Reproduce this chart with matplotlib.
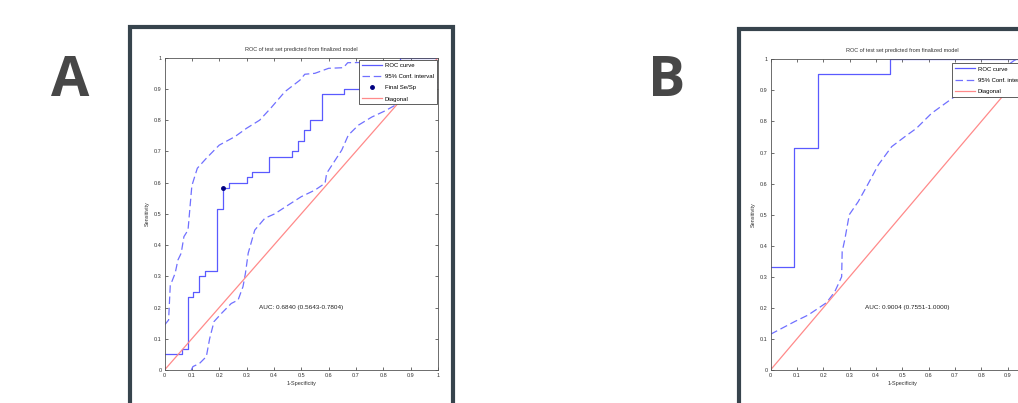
import matplotlib
matplotlib.use('Agg')
import matplotlib.pyplot as plt
from matplotlib.patches import Rectangle

# panel A data
roc_a_x = [0, 0.065, 0.065, 0.085, 0.085, 0.105, 0.105, 0.125, 0.125, 0.148, 0.148, 0.193, 0.193,
           0.213, 0.213, 0.235, 0.235, 0.30, 0.30, 0.32, 0.32, 0.383, 0.383, 0.467, 0.467, 0.489,
           0.489, 0.511, 0.511, 0.533, 0.533, 0.575, 0.575, 0.658, 0.658, 0.77, 0.77, 0.86, 0.86, 1.0]
roc_a_y = [0.05, 0.05, 0.067, 0.067, 0.233, 0.233, 0.25, 0.25, 0.30, 0.30, 0.317, 0.317, 0.517,
           0.517, 0.583, 0.583, 0.60, 0.60, 0.617, 0.617, 0.633, 0.633, 0.683, 0.683, 0.70, 0.70,
           0.733, 0.733, 0.767, 0.767, 0.80, 0.80, 0.883, 0.883, 0.90, 0.90, 0.917, 0.917, 1.0, 1.0]
upper_a_x = [0, 0.015, 0.021, 0.039, 0.049, 0.061, 0.071, 0.086, 0.10, 0.12, 0.153, 0.20, 0.257,
             0.30, 0.348, 0.39, 0.44, 0.495, 0.513, 0.55, 0.60, 0.654, 0.67, 0.75, 0.85, 1.0]
upper_a_y = [0.144, 0.16, 0.27, 0.31, 0.352, 0.374, 0.427, 0.448, 0.59, 0.646, 0.678, 0.72, 0.747,
             0.774, 0.80, 0.84, 0.891, 0.928, 0.947, 0.95, 0.966, 0.968, 0.984, 0.985, 0.985, 0.985]
lower_a_x = [0.098, 0.104, 0.128, 0.153, 0.165, 0.181, 0.208, 0.244, 0.269, 0.287, 0.296, 0.306,
             0.33, 0.367, 0.403, 0.452, 0.50, 0.55, 0.587, 0.593, 0.648, 0.672, 0.709, 0.758,
             0.807, 0.856, 0.93, 1.0]
lower_a_y = [0.0, 0.011, 0.021, 0.043, 0.10, 0.155, 0.181, 0.213, 0.224, 0.267, 0.31, 0.374,
             0.448, 0.486, 0.50, 0.528, 0.555, 0.576, 0.598, 0.63, 0.704, 0.752, 0.784, 0.81,
             0.83, 0.854, 0.89, 0.921]
point_a = (0.213, 0.583)
auc_a = 'AUC: 0.6840 (0.5643-0.7804)'

# panel B data
roc_b_x = [0, 0.09, 0.09, 0.18, 0.18, 0.455, 0.455, 1.0]
roc_b_y = [0.333, 0.333, 0.714, 0.714, 0.952, 0.952, 1.0, 1.0]
lower_b_x = [0, 0.092, 0.143, 0.194, 0.213, 0.244, 0.27, 0.272, 0.282, 0.299, 0.333, 0.371,
             0.409, 0.46, 0.51, 0.554, 0.611, 0.725, 0.83, 0.928, 1.0]
lower_b_y = [0.115, 0.156, 0.177, 0.206, 0.217, 0.252, 0.30, 0.381, 0.42, 0.50, 0.542, 0.60,
             0.66, 0.719, 0.751, 0.778, 0.826, 0.896, 0.94, 0.998, 1.0]
auc_b = 'AUC: 0.9004 (0.7551-1.0000)'

ticks = [0, 0.1, 0.2, 0.3, 0.4, 0.5, 0.6, 0.7, 0.8, 0.9, 1]
tick_labels = ['0', '0.1', '0.2', '0.3', '0.4', '0.5', '0.6', '0.7', '0.8', '0.9', '1']

plt.rcParams['font.family'] = ['Liberation Sans', 'DejaVu Sans']

roc_col = '#5a5aff'
ci_col = '#7070ff'
diag_col = '#ff8a8a'
frame_col = '#37444d'

fig = plt.figure(figsize=(10.18, 4.03), dpi=100)

# dark frames around the two panels
fig.patches.append(Rectangle((130 / 1018, -0.2), 323 / 1018, 1.2 - (27 / 403), transform=fig.transFigure,
                             fill=False, edgecolor=frame_col, linewidth=3, zorder=0))
fig.patches.append(Rectangle((738.7 / 1018, -0.2), 0.5, 1.2 - (29 / 403), transform=fig.transFigure,
                             fill=False, edgecolor=frame_col, linewidth=3, zorder=0))

fig.text(70 / 1018, 1 - 81 / 403, 'A', fontsize=40, fontweight='bold', color='#474747',
         family=['Open Sans', 'DejaVu Sans'], ha='center', va='center')
fig.text(667 / 1018, 1 - 81 / 403, 'B', fontsize=40, fontweight='bold', color='#474747',
         family=['Open Sans', 'DejaVu Sans'], ha='center', va='center')


def style_axes(ax):
    ax.set_xlim(0, 1)
    ax.set_ylim(0, 1)
    ax.set_xticks(ticks)
    ax.set_yticks(ticks)
    ax.set_xticklabels(tick_labels)
    ax.set_yticklabels(tick_labels)
    ax.tick_params(direction='in', length=2.5, width=0.5, labelsize=4, top=True, right=True, pad=2,
                   colors='#333333')
    for s in ax.spines.values():
        s.set_linewidth(0.6)
        s.set_color('#555555')
    ax.set_title('ROC of test set predicted from finalized model', fontsize=4, pad=5, color='#333333')
    ax.set_xlabel('1-Specificity', fontsize=4, labelpad=2, color='#333333')
    ax.set_ylabel('Sensitivity', fontsize=4, labelpad=3, color='#333333')


# panel A
ax1 = fig.add_axes([164.5 / 1018, 33 / 403, 273.5 / 1018, 312.3 / 403])
ax1.plot(roc_a_x, roc_a_y, color=roc_col, lw=0.9, label='ROC curve')
ax1.plot(upper_a_x, upper_a_y, color=ci_col, lw=0.9, ls=(0, (6, 3)), label='95% Conf. interval')
ax1.plot(lower_a_x, lower_a_y, color=ci_col, lw=0.9, ls=(0, (6, 3)))
ax1.plot([point_a[0]], [point_a[1]], 'o', color='#000080', ms=2.5, ls='none', label='Final Se/Sp')
ax1.plot([0, 1], [0, 1], color=diag_col, lw=0.9, label='Diagonal')
ax1.text(0.5, 0.2, auc_a, fontsize=4.6, ha='center', va='center', color='#222222')
style_axes(ax1)
leg1 = ax1.legend(loc='upper right', bbox_to_anchor=(0.995, 0.993), fontsize=4.3, handlelength=3.3,
                  labelspacing=1.0, borderaxespad=0, fancybox=False, framealpha=1,
                  edgecolor='#444444', borderpad=0.5, handletextpad=0.5)
leg1.get_frame().set_linewidth(0.6)

# panel B
ax2 = fig.add_axes([770.5 / 1018, 33 / 403, 263.5 / 1018, 310.7 / 403])
ax2.plot(roc_b_x, roc_b_y, color=roc_col, lw=0.9, label='ROC curve')
ax2.plot(lower_b_x, lower_b_y, color=ci_col, lw=0.9, ls=(0, (6, 3)), label='95% Conf. interval')
ax2.plot([0, 1], [0, 1], color=diag_col, lw=0.9, label='Diagonal')
ax2.text(0.52, 0.2, auc_b, fontsize=4.6, ha='center', va='center', color='#222222')
style_axes(ax2)
leg2 = ax2.legend(loc='upper left', bbox_to_anchor=((952 - 770.5) / 263.5, 0.987), fontsize=4.3,
                  handlelength=3.3, labelspacing=1.0, borderaxespad=0, fancybox=False, framealpha=1,
                  edgecolor='#444444', borderpad=0.5, handletextpad=0.5)
leg2.get_frame().set_linewidth(0.6)

fig.savefig('out.png', dpi=100)
